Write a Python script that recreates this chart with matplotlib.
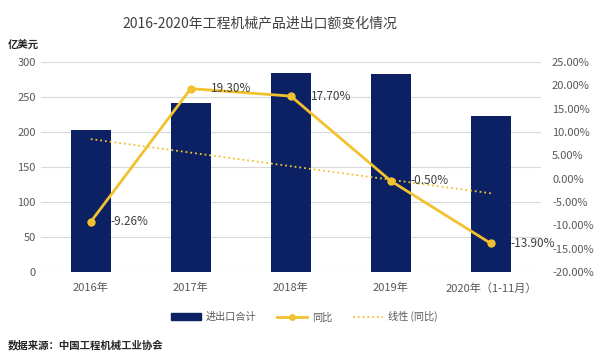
import numpy as np
import matplotlib
matplotlib.use("Agg")
import matplotlib.pyplot as plt
from matplotlib.patches import Patch
from matplotlib.lines import Line2D

plt.rcParams['font.family'] = ['Noto Sans CJK SC', 'DejaVu Sans']

years = ['2016年', '2017年', '2018年', '2019年', '2020年（1-11月）']
total = [203, 241, 284, 283, 223]          # 亿美元
yoy = [-9.26, 19.30, 17.70, -0.50, -13.90]  # %
yoy_labels = ['-9.26%', '19.30%', '17.70%', '-0.50%', '-13.90%']

navy = '#0b2163'
gold = '#f2c12e'
grey = '#595959'

fig = plt.figure(figsize=(5.99, 3.63), dpi=100)
ax = fig.add_axes([0.068, 0.251, 0.835, 0.578])
x = np.arange(len(years))

ax.bar(x, total, width=0.4, color=navy, zorder=2)
ax.set_ylim(0, 300)
ax.set_yticks(range(0, 301, 50))
ax.set_xlim(-0.5, len(years) - 0.5)
ax.set_xticks(x)
ax.set_xticklabels(years)
ax.grid(axis='y', color='#d9d9d9', linewidth=0.8, zorder=0)
ax.set_axisbelow(True)
for s in ax.spines.values():
    s.set_visible(False)
ax.tick_params(length=0, labelsize=8, labelcolor=grey)
ax.tick_params(axis='x', pad=8)

ax2 = ax.twinx()
ax2.set_ylim(-20, 25)
ax2.set_yticks(range(-20, 26, 5))
ax2.set_yticklabels(['%.2f%%' % v for v in range(-20, 26, 5)])
for s in ax2.spines.values():
    s.set_visible(False)
ax2.tick_params(length=0, labelsize=8, labelcolor=grey, pad=8)

ax2.plot(x, yoy, color=gold, linewidth=2, marker='o', markersize=5, zorder=3)
k, b = np.polyfit(x, yoy, 1)
ax2.plot(x, k * x + b, color=gold, linestyle=':', linewidth=1.3, zorder=3)
for xi, yi, t in zip(x, yoy, yoy_labels):
    ax2.text(xi + 0.2, yi, t, fontsize=8.5, color='#404040', va='center', ha='left')

fig.text(0.434, 0.935, '2016-2020年工程机械产品进出口额变化情况', ha='center', va='center',
         fontsize=10, color='#404040')
fig.text(0.013, 0.878, '亿美元', fontsize=7.5, color='#262626', va='center', fontweight='bold')
fig.text(0.013, 0.05, '数据来源：中国工程机械工业协会', fontsize=7.5, color='#262626',
         va='center', fontweight='bold')

handles = [Patch(color=navy),
           Line2D([], [], color=gold, linewidth=2, marker='o', markersize=4),
           Line2D([], [], color=gold, linestyle=':', linewidth=1.3)]
fig.legend(handles, ['进出口合计', '同比', '线性 (同比)'], loc='center', ncol=3,
           bbox_to_anchor=(0.508, 0.127), frameon=False, fontsize=7.3,
           labelcolor=grey, handlelength=3.0, handletextpad=0.5, columnspacing=2.0)

fig.savefig('out.png', dpi=100, facecolor='white')
